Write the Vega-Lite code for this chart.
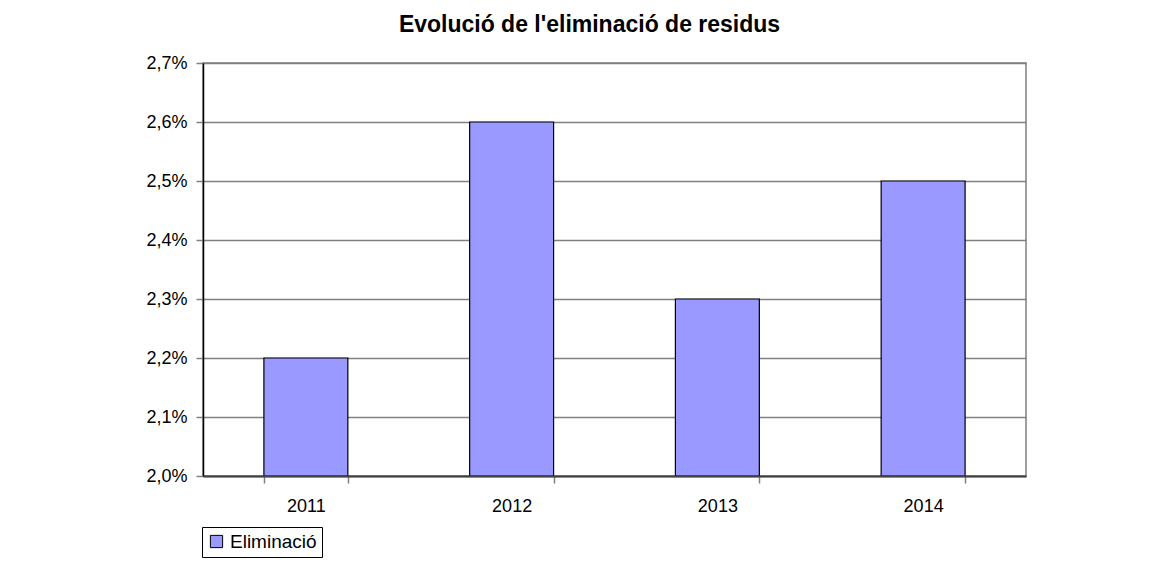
{
  "$schema": "https://vega.github.io/schema/vega-lite/v6.json",
  "width": 823,
  "height": 413,
  "autosize": {"type": "none"},
  "padding": {"left": 203, "top": 63, "right": 141, "bottom": 88},
  "background": "white",
  "title": {
    "text": "Evolució de l'eliminació de residus",
    "font": "Liberation Sans",
    "fontSize": 23,
    "fontWeight": "bold",
    "color": "black",
    "anchor": "middle",
    "dx": -25,
    "offset": 17
  },
  "config": {
    "view": {"stroke": "#808080", "strokeWidth": 1.5},
    "axis": {"labelFont": "Liberation Sans", "labelFontSize": 18, "labelColor": "black"},
    "legend": {"labelFont": "Liberation Sans", "labelFontSize": 19, "labelColor": "black"}
  },
  "data": {
    "values": [
      {"year": "2011", "serie": "Eliminació", "value": 0.022},
      {"year": "2012", "serie": "Eliminació", "value": 0.026},
      {"year": "2013", "serie": "Eliminació", "value": 0.023},
      {"year": "2014", "serie": "Eliminació", "value": 0.025}
    ]
  },
  "mark": {"type": "bar", "stroke": "black", "strokeWidth": 1.2},
  "encoding": {
    "x": {
      "field": "year",
      "type": "nominal",
      "scale": {"paddingInner": 0.592, "paddingOuter": 0.296},
      "axis": {
        "title": null,
        "labelAngle": 0,
        "tickBand": "extent",
        "domainColor": "#404040",
        "domainWidth": 2,
        "tickColor": "#808080",
        "tickWidth": 1.5,
        "tickSize": 7,
        "labelPadding": 14,
        "grid": false,
        "zindex": 1
      }
    },
    "y": {
      "field": "value",
      "type": "quantitative",
      "scale": {"domain": [0.02, 0.027], "nice": false, "zero": false, "clamp": true},
      "axis": {
        "title": null,
        "values": [0.02, 0.021, 0.022, 0.023, 0.024, 0.025, 0.026, 0.027],
        "labelExpr": "replace(format(datum.value, '.1%'), '.', ',')",
        "domainColor": "black",
        "domainWidth": 1.5,
        "tickColor": "#808080",
        "tickWidth": 1.5,
        "tickSize": 7,
        "labelPadding": 9,
        "grid": true,
        "gridColor": "#808080",
        "gridWidth": 1.5,
        "gridOpacity": 1
      }
    },
    "color": {
      "field": "serie",
      "type": "nominal",
      "scale": {"range": ["#9999FF"]},
      "legend": {
        "title": null,
        "orient": "none",
        "legendX": -1,
        "legendY": 464,
        "strokeColor": "black",
        "fillColor": "white",
        "padding": 5,
        "symbolType": "square",
        "symbolSize": 150,
        "symbolStrokeColor": "black",
        "symbolStrokeWidth": 1,
        "labelOffset": 4
      }
    }
  }
}
